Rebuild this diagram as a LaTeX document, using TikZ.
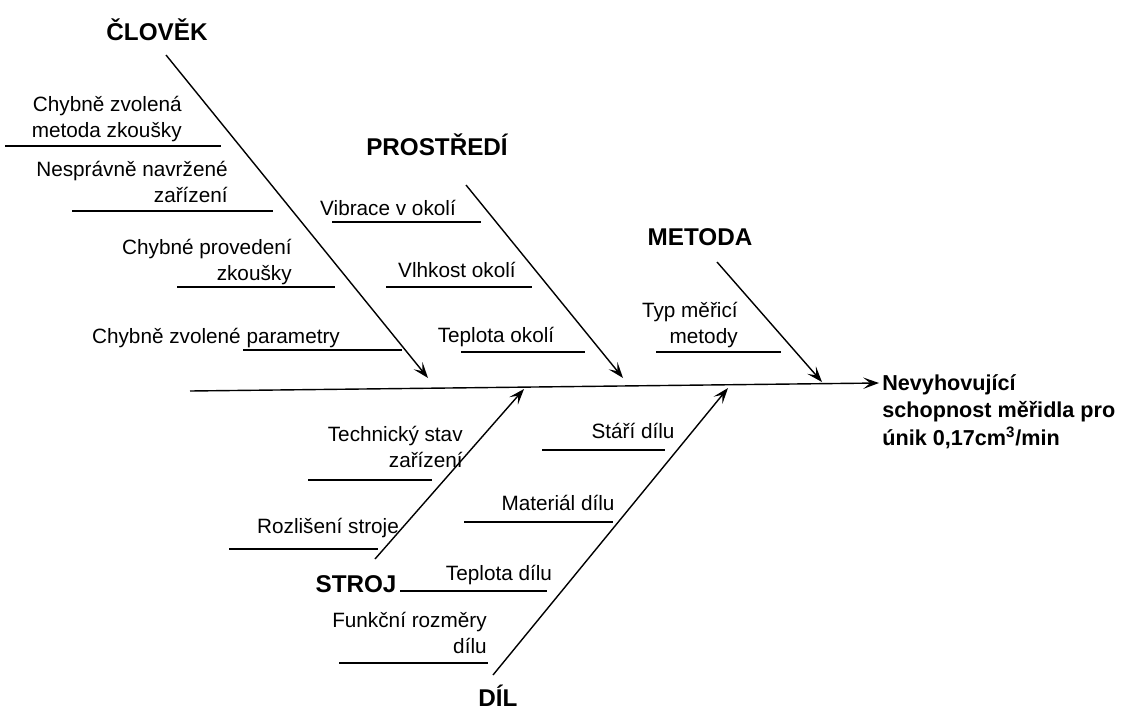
\documentclass[tikz,border=0pt]{standalone}
\usepackage{fontspec}
\setmainfont{Liberation Sans}
\usetikzlibrary{arrows.meta}
\tikzset{
  bone/.style={line width=0.8pt,-{Stealth[length=9pt,width=6.5pt,inset=4pt]}},
  uline/.style={line width=0.8pt},
  cause/.style={inner sep=0pt,font=\fontsize{11.8}{14.4}\selectfont},
  rcause/.style={cause,align=right,anchor=base east},
  ccause/.style={cause,anchor=base},
  head/.style={inner sep=0pt,anchor=base,font=\fontsize{13.8}{16}\selectfont\bfseries},
  effect/.style={inner sep=0pt,anchor=base west,align=left,font=\fontsize{12.3}{15.6}\selectfont\bfseries}
}
\begin{document}
\begin{tikzpicture}[x=0.02cm,y=-0.02cm]
\useasboundingbox (0,0) rectangle (1125,710);
% spine
\coordinate (tail) at (190,391);
\node[effect] (eff) at (882,445) {Nevyhovující\\schopnost měřidla pro\\únik 0,17cm\textsuperscript{3}/min};
\coordinate (head) at (879,383);
\draw[bone] (tail) -- (head);
% heads
\node[head] (clovek) at (157,40) {ČLOVĚK};
\node[head] (prostredi) at (437,155) {PROSTŘEDÍ};
\node[head] (metoda) at (700,245) {METODA};
\node[head] (stroj) at (356,592) {STROJ};
\node[head] (dil) at (498,706) {DÍL};
% bone ends
\coordinate (c1) at (166,55);   \coordinate (c2) at (428,378);
\coordinate (p1) at (466,185);  \coordinate (p2) at (623,378);
\coordinate (m1) at (717,262);  \coordinate (m2) at (822,382);
\coordinate (s1) at (375,559);  \coordinate (s2) at (524,389);
\coordinate (d1) at (493,675);  \coordinate (d2) at (728,388);
\draw[bone] (c1) -- (c2);
\draw[bone] (p1) -- (p2);
\draw[bone] (m1) -- (m2);
\draw[bone] (s1) -- (s2);
\draw[bone] (d1) -- (d2);
% CLOVEK causes
\node[rcause] (c_a) at (182,137) {Chybně zvolená\\metoda zkoušky};
\draw[uline] (5,146) -- (221,146);
\node[rcause] (c_b) at (228,202) {Nesprávně navržené\\zařízení};
\draw[uline] (72,211) -- (273,211);
\node[rcause] (c_c) at (292,280) {Chybné provedení\\zkoušky};
\draw[uline] (177,287) -- (335,287);
\node[ccause] (c_d) at (216,343) {Chybně zvolené parametry};
\draw[uline] (243,350) -- (402,350);
% PROSTREDI causes
\node[ccause] (p_a) at (388,215) {Vibrace v okolí};
\draw[uline] (332,222) -- (481,222);
\node[ccause] (p_b) at (457,277) {Vlhkost okolí};
\draw[uline] (386,287) -- (532,287);
\node[ccause] (p_c) at (496,342) {Teplota okolí};
\draw[uline] (461,352) -- (585,352);
% METODA causes
\node[rcause] (m_a) at (738,343) {Typ měřicí\\metody};
\draw[uline] (656,352) -- (781,352);
% STROJ causes
\node[rcause] (s_a) at (463,467) {Technický stav\\zařízení};
\draw[uline] (308,480) -- (432,480);
\node[ccause] (s_b) at (328,533) {Rozlišení stroje};
\draw[uline] (229,549) -- (378,549);
% DIL causes
\node[ccause] (d_a) at (633,438) {Stáří dílu};
\draw[uline] (542,450) -- (665,450);
\node[ccause] (d_b) at (558,510) {Materiál dílu};
\draw[uline] (464,522) -- (613,522);
\node[ccause] (d_c) at (499,580) {Teplota dílu};
\draw[uline] (400,591) -- (547,591);
\node[rcause] (d_d) at (487,653) {Funkční rozměry\\dílu};
\draw[uline] (339,663) -- (488,663);
\end{tikzpicture}
\end{document}
